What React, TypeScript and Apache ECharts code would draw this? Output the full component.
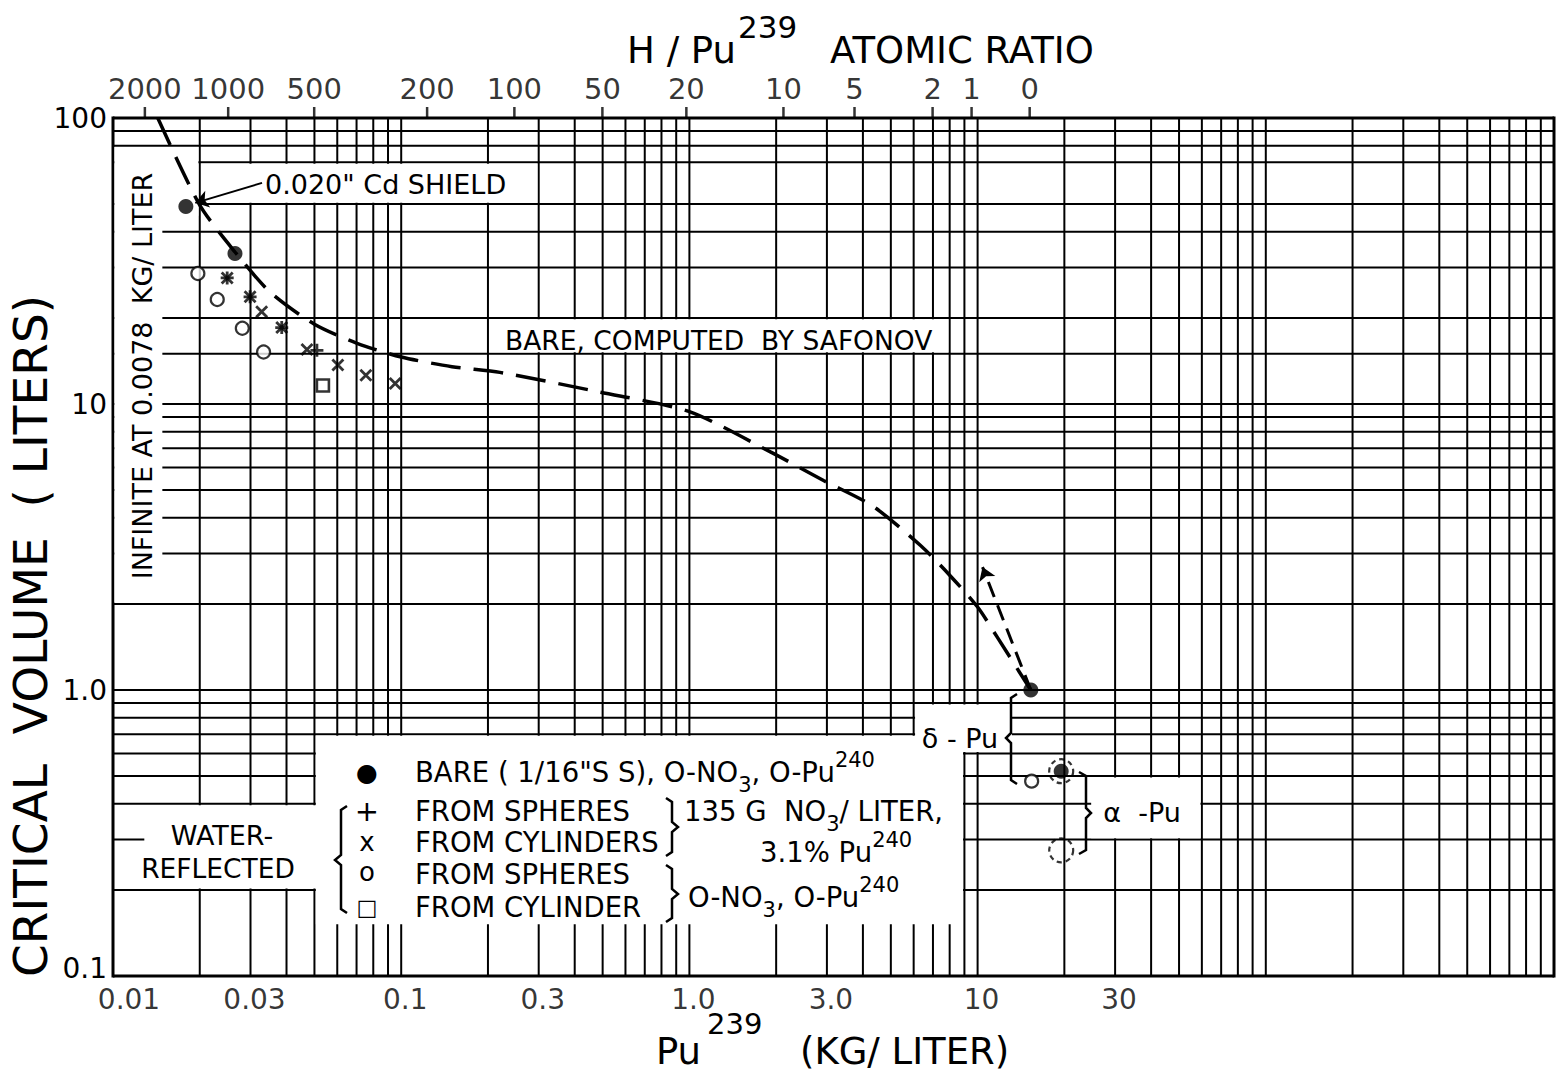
import React, { useEffect, useRef } from "react";
import * as echarts from "echarts";

const FONT = '"DejaVu Sans", "Liberation Sans", sans-serif';

const X_MIN = 0.01;
const X_MAX = 1000;
const Y_MIN = 0.1;
const Y_MAX = 100;

// log-paper rulings (as drawn on the original sheet)
const xGridLines = [
  0.01, 0.02, 0.03, 0.04, 0.05, 0.06, 0.07, 0.08, 0.09,
  0.1, 0.2, 0.3, 0.4, 0.5, 0.6, 0.7, 0.8, 0.9,
  1, 2, 3, 4, 5, 6, 7, 8, 9,
  10, 20, 30, 40, 50, 60, 70, 80, 90,
  100, 200, 300, 400, 500, 600, 700, 800, 900, 1000,
];
const yGridLines = [
  0.1, 0.2, 0.3, 0.4, 0.5, 0.6, 0.7, 0.8, 0.9,
  1, 2, 3, 4, 5, 6, 7, 8, 9,
  10, 15, 20, 30, 40, 50, 70, 80, 90, 100,
];

const yTickValues = [0.1, 1, 10, 100];
const yTickLabels = ["0.1", "1.0", "10", "100"];
const bottomTickValues = [0.01, 0.03, 0.1, 0.3, 1, 3, 10, 30];
const bottomTickLabels = ["0.01", "0.03", "0.1", "0.3", "1.0", "3.0", "10", "30"];
// H/Pu239 atomic ratio scale, positioned on the Pu239 concentration axis
const topTickValues = [0.0129, 0.0251, 0.0499, 0.123, 0.247, 0.499, 0.976, 2.12, 3.74, 6.98, 9.53, 15.16];
const topTickLabels = ["2000", "1000", "500", "200", "100", "50", "20", "10", "5", "2", "1", "0"];

// Bare, computed by Safonov (dashed curve)
const safonovCurve: [number, number][] = [
  [0.0143, 100], [0.02, 49.6], [0.0265, 34.0], [0.0351, 24.6], [0.05, 19.0],
  [0.0703, 16.3], [0.1, 14.6], [0.15, 13.5], [0.22, 12.9], [0.49, 11.0],
  [1.0, 9.4], [1.91, 6.8], [2.92, 5.4], [4.32, 4.4], [6.34, 3.2],
  [8.06, 2.5], [10.0, 1.95], [11.7, 1.53], [15.3, 1.0],
];
// Bare (1/16" SS), 0-NO3, 0-Pu240
const bareFilled: [number, number][] = [
  [0.0179, 49], [0.0265, 33.6], [15.3, 1.0], [19.5, 0.52],
];
// Water-reflected, 135 g NO3/liter, 3.1% Pu240
const plusSpheres: [number, number][] = [
  [0.0249, 27.6], [0.0299, 23.7], [0.0385, 18.5], [0.051, 15.4],
];
const crossCylinders: [number, number][] = [
  [0.0249, 27.6], [0.0299, 23.7], [0.0328, 21.0], [0.0385, 18.5],
  [0.0471, 15.5], [0.0603, 13.7], [0.0754, 12.6], [0.0953, 11.8],
];
// Water-reflected, 0-NO3, 0-Pu240
const openSpheres: [number, number][] = [
  [0.0197, 28.6], [0.023, 23.2], [0.0281, 18.4], [0.0333, 15.2], [15.4, 0.48],
];
const squareCylinder: [number, number][] = [[0.0535, 11.6]];
// alpha-Pu points drawn with dashed rings
const alphaRings: [number, number][] = [[19.5, 0.52], [19.5, 0.275]];

// annotation arrows
const cdArrow: [number, number][] = [[0.0329, 59.3], [0.0193, 50.5]];
const deltaArrow: [number, number][] = [[15.3, 1.0], [10.4, 2.69]];

// blanked-out areas of the ruling behind the annotations: [x1, x2, y1, y2]
const whitePatches: number[][] = [
  [0.01, 0.015, 2, 80],
  [0.014, 0.02, 45, 80],
  [0.02, 0.3, 50, 70],
  [0.2, 8, 15, 20],
  [0.05, 9, 0.15, 0.7],
  [0.0127, 0.052, 0.2, 0.4],
  [6, 13.3, 0.6, 0.9],
  [24.5, 60, 0.3, 0.5],
];

const PLUS = "path://M6,0L6,12M0,6L12,6";
const CROSS = "path://M0,0L12,12M12,0L0,12";

function txt(x: number, y: number, text: string, size: number, align = "left", rotation = 0) {
  return {
    type: "text",
    x,
    y,
    rotation,
    z: 100,
    silent: true,
    style: {
      text,
      fill: "#000",
      fontSize: size,
      fontFamily: FONT,
      align,
      verticalAlign: "middle",
      textAlign: align,
      textVerticalAlign: "middle",
    },
  };
}

function richTxt(x: number, y: number, text: string, size: number) {
  return {
    type: "text",
    x,
    y,
    z: 100,
    silent: true,
    style: {
      text,
      fill: "#000",
      fontSize: size,
      fontFamily: FONT,
      align: "left",
      verticalAlign: "middle",
      textAlign: "left",
      textVerticalAlign: "middle",
      rich: {
        n: { fontSize: size, fontFamily: FONT, lineHeight: 46, verticalAlign: "middle", fill: "#000" },
        sp: { fontSize: 21, fontFamily: FONT, lineHeight: 21, verticalAlign: "top", fill: "#000" },
        sb: { fontSize: 21, fontFamily: FONT, lineHeight: 21, verticalAlign: "bottom", fill: "#000" },
      },
    },
  };
}

function poly(points: number[][], width = 2.5) {
  return {
    type: "polyline",
    z: 100,
    silent: true,
    shape: { points },
    style: { stroke: "#000", lineWidth: width, fill: "none" },
  };
}

const LEG = 27.5;

function buildOption() {
  const graphic: any[] = [
    // axis titles
    txt(30, 636, "CRITICAL  VOLUME  ( LITERS)", 47, "center", Math.PI / 2),
    txt(736, 50, "H / Pu", 37, "right"),
    txt(738, 27, "239", 31, "left"),
    txt(830, 50, "ATOMIC RATIO", 37, "left"),
    txt(701, 1051, "Pu", 37, "right"),
    txt(707, 1024, "239", 29, "left"),
    txt(800, 1051, "(KG/ LITER)", 37, "left"),
    // annotations
    txt(265, 184, '0.020" Cd SHIELD', 27, "left"),
    txt(505, 340, "BARE, COMPUTED  BY SAFONOV", 26.5, "left"),
    txt(142, 376, "INFINITE AT 0.0078  KG/ LITER", 27, "center", Math.PI / 2),
    txt(222, 835, "WATER-", 27, "center"),
    txt(218, 868, "REFLECTED", 26.5, "center"),
    txt(960, 738, "δ - Pu", 27, "center"),
    txt(1142, 812, "α  -Pu", 27, "center"),
    // legend
    txt(367, 772, "●", 25, "center"),
    txt(367, 811, "+", 29, "center"),
    txt(367, 842, "x", 26, "center"),
    txt(367, 872, "o", 26, "center"),
    txt(367, 907, "□", 22, "center"),
    richTxt(415, 772, '{n|BARE ( 1/16"S S), O-NO}{sb|3}{n|, O-Pu}{sp|240}', LEG),
    txt(415, 811, "FROM SPHERES", LEG, "left"),
    txt(415, 842, "FROM CYLINDERS", LEG, "left"),
    txt(415, 874, "FROM SPHERES", LEG, "left"),
    txt(415, 907, "FROM CYLINDER", LEG, "left"),
    richTxt(684, 811, "{n|135 G  NO}{sb|3}{n|/ LITER,}", LEG),
    richTxt(760, 852, "{n|3.1% Pu}{sp|240}", LEG),
    richTxt(688, 897, "{n|O-NO}{sb|3}{n|, O-Pu}{sp|240}", LEG),
    // braces
    poly([[347, 806], [341, 810], [341, 855], [335, 860], [341, 865], [341, 909], [347, 913]]),
    poly([[666, 798], [672, 802], [672, 822], [678, 827], [672, 832], [672, 852], [666, 856]]),
    poly([[666, 865], [672, 869], [672, 889], [678, 894], [672, 899], [672, 918], [666, 922]]),
    poly([[1017, 694], [1011, 698], [1011, 733], [1006, 738], [1011, 743], [1011, 780], [1017, 784]]),
    poly([[1079, 772], [1086, 776], [1086, 808], [1091, 813], [1086, 818], [1086, 850], [1079, 854]]),
  ];

  return {
    animation: false,
    backgroundColor: "#fff",
    textStyle: { fontFamily: FONT },
    grid: { left: 113, right: 6, top: 118, bottom: 97 },
    xAxis: {
      type: "log",
      logBase: 10,
      min: X_MIN,
      max: X_MAX,
      axisLine: { show: false },
      axisTick: { show: false },
      axisLabel: { show: false },
      splitLine: { show: false },
    },
    yAxis: {
      type: "log",
      logBase: 10,
      min: Y_MIN,
      max: Y_MAX,
      axisLine: { show: false },
      axisTick: { show: false },
      splitLine: { show: false },
      axisLabel: {
        color: "#000",
        fontSize: 28,
        fontFamily: FONT,
        margin: 6,
        rich: {
          up: { fontSize: 28, fontFamily: FONT, color: "#000", padding: [0, 0, 16, 0] },
        },
        formatter: (v: number) => {
          const i = yTickValues.findIndex((t) => Math.abs(Math.log10(t) - Math.log10(v)) < 0.01);
          if (i < 0) return "";
          return i === 0 ? `{up|${yTickLabels[i]}}` : yTickLabels[i];
        },
      },
    },
    graphic,
    series: [
      {
        type: "custom",
        name: "vgrid",
        z: 1,
        silent: true,
        clip: false,
        data: xGridLines.map((v) => [v, Y_MIN]),
        encode: { x: 0, y: 1 },
        renderItem: (_p: any, api: any) => {
          const v = api.value(0);
          const a = api.coord([v, Y_MIN]);
          const b = api.coord([v, Y_MAX]);
          const edge = v === X_MIN || v === X_MAX;
          return {
            type: "line",
            shape: { x1: a[0], y1: a[1] + (edge ? 1.5 : 0), x2: b[0], y2: b[1] - (edge ? 1.5 : 0) },
            style: { stroke: "#000", lineWidth: edge ? 3 : 2 },
          };
        },
      },
      {
        type: "custom",
        name: "hgrid",
        z: 1,
        silent: true,
        clip: false,
        data: yGridLines.map((v) => [X_MIN, v]),
        encode: { x: 0, y: 1 },
        renderItem: (_p: any, api: any) => {
          const v = api.value(1);
          const a = api.coord([X_MIN, v]);
          const b = api.coord([X_MAX, v]);
          const edge = v === Y_MIN || v === Y_MAX;
          return {
            type: "line",
            shape: { x1: a[0], y1: a[1], x2: b[0], y2: b[1] },
            style: { stroke: "#000", lineWidth: edge ? 3 : 2 },
          };
        },
      },
      {
        type: "custom",
        name: "patches",
        z: 2,
        silent: true,
        clip: false,
        data: whitePatches,
        encode: { x: [0, 1], y: [2, 3] },
        renderItem: (_p: any, api: any) => {
          const a = api.coord([api.value(0), api.value(3)]);
          const b = api.coord([api.value(1), api.value(2)]);
          const inset = 1.4;
          return {
            type: "rect",
            shape: { x: a[0] + inset, y: a[1] + inset, width: b[0] - a[0] - 2 * inset, height: b[1] - a[1] - 2 * inset },
            style: { fill: "#fff" },
          };
        },
      },
      {
        type: "line",
        name: "Safonov",
        z: 3,
        data: safonovCurve,
        smooth: 0.25,
        symbol: "none",
        silent: true,
        clip: false,
        lineStyle: { color: "#000", width: 3.5, type: [30, 13] },
        markLine: {
          silent: true,
          symbol: ["none", "arrow"],
          symbolSize: 13,
          label: { show: false },
          lineStyle: { color: "#000", width: 2, type: "solid" },
          data: [
            [{ coord: cdArrow[0] }, { coord: cdArrow[1] }],
            [
              { coord: deltaArrow[0], lineStyle: { type: [16, 9], width: 3, color: "#000" } },
              { coord: deltaArrow[1] },
            ],
          ],
        },
      },
      {
        type: "scatter",
        name: "bare",
        z: 4,
        data: bareFilled,
        symbol: "circle",
        symbolSize: 15,
        clip: false,
        itemStyle: { color: "#000" },
      },
      {
        type: "scatter",
        name: "alphaRings",
        z: 4,
        data: alphaRings,
        symbol: "circle",
        symbolSize: 24,
        clip: false,
        itemStyle: { color: "rgba(0,0,0,0)", borderColor: "#000", borderWidth: 2.2, borderType: [5, 4] },
      },
      {
        type: "scatter",
        name: "plusSpheres",
        z: 4,
        data: plusSpheres,
        symbol: PLUS,
        symbolSize: 13,
        clip: false,
        itemStyle: { color: "rgba(0,0,0,0)", borderColor: "#000", borderWidth: 2.8 },
      },
      {
        type: "scatter",
        name: "crossCylinders",
        z: 4,
        data: crossCylinders,
        symbol: CROSS,
        symbolSize: 11,
        clip: false,
        itemStyle: { color: "rgba(0,0,0,0)", borderColor: "#000", borderWidth: 2.8 },
      },
      {
        type: "scatter",
        name: "openSpheres",
        z: 4,
        data: openSpheres,
        symbol: "circle",
        symbolSize: 13,
        clip: false,
        itemStyle: { color: "#fff", borderColor: "#000", borderWidth: 2.2 },
      },
      {
        type: "scatter",
        name: "squareCylinder",
        z: 4,
        data: squareCylinder,
        symbol: "rect",
        symbolSize: 12,
        clip: false,
        itemStyle: { color: "#fff", borderColor: "#000", borderWidth: 2.6 },
      },
      {
        type: "scatter",
        name: "topTicks",
        z: 5,
        silent: true,
        clip: false,
        data: topTickValues.map((v) => [v, Y_MAX]),
        symbol: "rect",
        symbolSize: [2.5, 11],
        symbolOffset: [0, -5.5],
        itemStyle: { color: "#000" },
        label: {
          show: true,
          position: "top",
          distance: 4,
          color: "#000",
          fontSize: 29,
          fontFamily: FONT,
          formatter: (p: any) => topTickLabels[p.dataIndex],
        },
      },
      {
        type: "scatter",
        name: "bottomLabels",
        z: 5,
        silent: true,
        clip: false,
        data: bottomTickValues.map((v, i) => ({
          value: [v, Y_MIN],
          label: i === 0 ? { offset: [16, 0] } : undefined,
        })),
        symbol: "circle",
        symbolSize: 1,
        itemStyle: { color: "rgba(0,0,0,0)" },
        label: {
          show: true,
          position: "bottom",
          distance: 9,
          offset: [4, 0],
          color: "#000",
          fontSize: 28,
          fontFamily: FONT,
          formatter: (p: any) => bottomTickLabels[p.dataIndex],
        },
      },
    ],
  };
}

export default function App() {
  const ref = useRef<HTMLDivElement>(null);
  useEffect(() => {
    if (!ref.current) return;
    const chart = echarts.init(ref.current, null, { renderer: "svg" });
    chart.setOption(buildOption() as any);
    return () => chart.dispose();
  }, []);
  return (
    <div
      ref={ref}
      style={{ position: "fixed", left: 0, top: 0, width: 1560, height: 1073, background: "#fff" }}
    />
  );
}
